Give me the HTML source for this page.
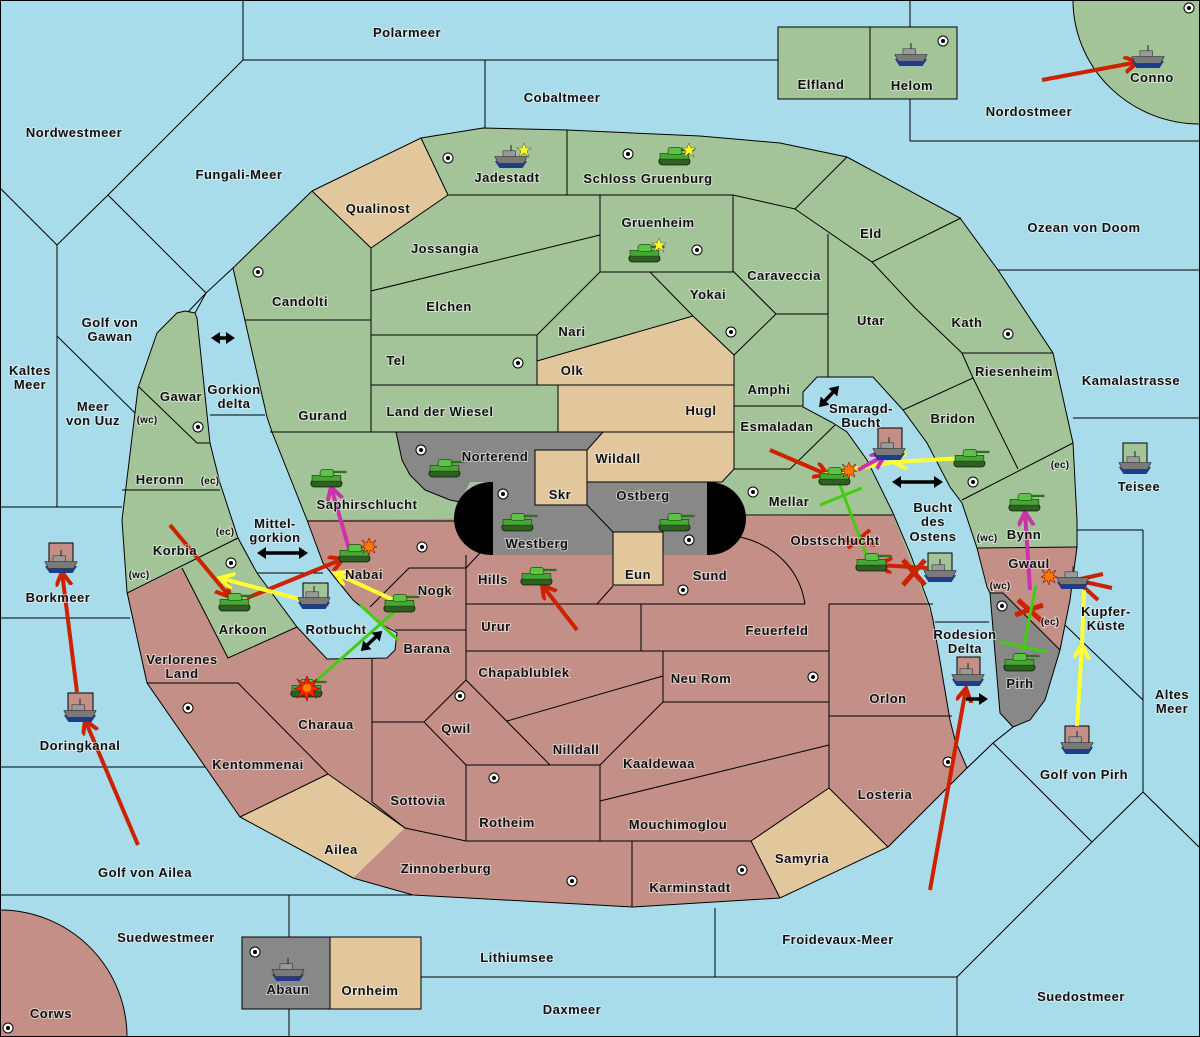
<!DOCTYPE html>
<html><head><meta charset="utf-8"><style>
html,body{margin:0;padding:0;background:#a9dcea;width:1200px;height:1037px;max-height:1037px;overflow:hidden;position:relative;}
svg{display:block;position:absolute;left:0;top:0;overflow:hidden}
text{font-family:"Liberation Sans","DejaVu Sans",sans-serif;font-weight:bold;font-size:13px;fill:#111;text-anchor:middle;letter-spacing:0.5px;paint-order:stroke;stroke:#f4f4f4;stroke-width:2px;stroke-opacity:0.6}
text.s{font-size:10px;letter-spacing:0.2px}
</style></head><body>
<svg width="1200" height="1037" viewBox="0 0 1200 1037" xmlns="http://www.w3.org/2000/svg">
<defs>
<g id="tank0">
 <rect x="-14" y="0" width="27" height="6" rx="3" fill="#2f5f22" stroke="#0d2a08" stroke-width="0.8"/>
 <rect x="-13" y="-4" width="25" height="5" fill="#46a735" stroke="#1b4a12" stroke-width="0.6"/>
 <rect x="-6" y="-9" width="12" height="6" rx="2" fill="#5cc444" stroke="#1b4a12" stroke-width="0.6"/>
 <rect x="5" y="-8" width="12" height="2" fill="#2e7020"/>
</g>
<g id="tank"><use href="#tank0" transform="scale(1.15)"/></g>
<g id="ship0">
 <path d="M-14,1 L14,1 L10,7 L-10,7Z" fill="#1c3c8c"/>
 <path d="M-14,-3 L14,-3 L11,3 L-11,3Z" fill="#7a7a7a" stroke="#333" stroke-width="0.6"/>
 <rect x="-7" y="-8" width="11" height="5" fill="#9a9a9a" stroke="#333" stroke-width="0.5"/>
 <line x1="0" y1="-13" x2="0" y2="-8" stroke="#333" stroke-width="1"/>
</g>
<g id="ship"><use href="#ship0" transform="scale(1.15)"/></g>
<g id="sc"><circle r="5" fill="#fff" stroke="#000" stroke-width="1"/><circle r="2" fill="#000"/></g>
<g id="boom"><polygon points="0,-12 3,-5 10,-9 6,-2 13,1 6,3 9,10 2,6 0,13 -3,6 -10,10 -6,3 -13,1 -6,-2 -10,-9 -3,-5" fill="#ff2200" stroke="#800" stroke-width="0.6"/><circle r="4" fill="#ff8800"/></g>
<g id="sboom"><polygon points="0,-8 2,-3 7,-6 4,-1 8,1 4,2 6,7 1,4 0,9 -2,4 -6,7 -4,2 -8,1 -4,-1 -7,-6 -2,-3" fill="#ff7700" stroke="#600" stroke-width="0.5"/></g>
<g id="star"><polygon points="0,-7 2,-2 7,-2 3,1 5,7 0,3 -5,7 -3,1 -7,-2 -2,-2" fill="#ffff22" stroke="#665" stroke-width="0.6"/></g>
<marker id="mr" markerWidth="20" markerHeight="20" refX="14" refY="8" orient="auto" markerUnits="userSpaceOnUse"><path d="M0,0 L14,8 L0,16" fill="none" stroke="#cc2200" stroke-width="4"/></marker>
<marker id="my" markerWidth="20" markerHeight="20" refX="14" refY="8" orient="auto" markerUnits="userSpaceOnUse"><path d="M0,0 L14,8 L0,16" fill="none" stroke="#ffff33" stroke-width="4"/></marker>
<marker id="mm" markerWidth="20" markerHeight="20" refX="14" refY="8" orient="auto" markerUnits="userSpaceOnUse"><path d="M0,0 L14,8 L0,16" fill="none" stroke="#cc33aa" stroke-width="4"/></marker>
<marker id="mb" markerWidth="12" markerHeight="12" refX="6" refY="6" orient="auto-start-reverse" markerUnits="userSpaceOnUse"><path d="M0,0 L9,6 L0,12Z" fill="#000"/></marker>
</defs>

<rect width="1200" height="1037" fill="#a9dcea"/>

<g stroke="#000" stroke-width="1" fill="none">
<polyline points="243,0 243,60 778,60"/>
<line x1="485" y1="60" x2="485" y2="128"/>
<polyline points="243,60 108,195 57,245"/>
<line x1="0" y1="188" x2="57" y2="245"/>
<line x1="57" y1="245" x2="57" y2="507"/>
<line x1="108" y1="195" x2="206" y2="293"/>
<line x1="206" y1="293" x2="188" y2="312"/>
<line x1="57" y1="336" x2="135" y2="413"/>
<line x1="0" y1="507" x2="122" y2="507"/>
<line x1="0" y1="618" x2="130" y2="618"/>
<line x1="0" y1="767" x2="205" y2="767"/>
<line x1="0" y1="895" x2="455" y2="895"/>
<line x1="289" y1="895" x2="289" y2="937"/>
<line x1="289" y1="1009" x2="289" y2="1037"/>
<line x1="421" y1="977" x2="957" y2="977"/>
<line x1="715" y1="908" x2="715" y2="977"/>
<line x1="957" y1="977" x2="957" y2="1037"/>
<polyline points="957,977 1092,842 1143,792 1200,848"/>
<polyline points="993,743 1092,842"/>
<line x1="1143" y1="530" x2="1143" y2="792"/>
<line x1="1077" y1="530" x2="1143" y2="530"/>
<line x1="1065" y1="625" x2="1143" y2="700"/>
<line x1="1073" y1="418" x2="1200" y2="418"/>
<line x1="998" y1="270" x2="1200" y2="270"/>
<line x1="910" y1="141" x2="1200" y2="141"/>
<line x1="910" y1="0" x2="910" y2="27"/>
<line x1="910" y1="99" x2="910" y2="141"/>
<line x1="1013" y1="727" x2="993" y2="743"/>
<line x1="993" y1="743" x2="967" y2="768"/>
</g>

<ellipse cx="1200" cy="0" rx="127" ry="124" fill="#a3c499" stroke="#000"/>
<circle cx="0" cy="1037" r="127" fill="#c48f86" stroke="#000"/>
<rect x="778" y="27" width="92" height="72" fill="#a3c499" stroke="#000"/>
<rect x="870" y="27" width="87" height="72" fill="#a3c499" stroke="#000"/>
<rect x="242" y="937" width="88" height="72" fill="#888" stroke="#000"/>
<rect x="330" y="937" width="91" height="72" fill="#e2c69c" stroke="#000"/>

<path d="M312,191 L421,138 L483,128 L567,130 L700,136 L780,143 L847,157 L960,218 L998,270 L1053,353 L1073,443 L1077,520 L1077,547 L1070,600 L1060,650 L1045,700 L1030,720 L1013,727 L993,743 L967,768 L888,847 L780,898 L633,907 L413,895 L353,878 L240,817 L147,683 L127,592 L122,520 L138,388 L157,333 L177,313 L185,311 L195,313 L206,293 L233,268 Z" fill="#a3c499"/>
<polygon points="127,593 182,568 228,658 297,627 300,520 893,515 933,620 955,740 967,768 888,847 780,898 633,907 413,895 353,878 240,817 147,683" fill="#c48f86"/>
<polygon points="977,548 1077,547 1070,600 1060,650 1003,593 990,593" fill="#c48f86"/>
<polygon points="990,593 1003,593 1060,650 1045,700 1030,720 1013,727 1000,713" fill="#888"/>
<polygon points="312,191 421,138 448,195 371,248" fill="#e2c69c"/>
<polygon points="537,361 693,316 734,355 734,469 722,482 587,482 587,450 603,432 558,432 558,385 537,385" fill="#e2c69c"/>
<polygon points="240,817 328,774 405,828 353,878" fill="#e2c69c"/>
<polygon points="751,841 829,788 888,847 780,898" fill="#e2c69c"/>
<path d="M396,432 L603,432 L587,450 L535,450 L535,482 L470,482 L460,502 L450,500 L425,490 L410,475 L402,460 Z" fill="#888"/>
<rect x="454" y="482" width="292" height="73" rx="37" fill="#000"/>
<rect x="493" y="482" width="214" height="73" fill="#888"/>
<rect x="535" y="450" width="52" height="55" fill="#e2c69c" stroke="#000"/>
<rect x="613" y="532" width="50" height="53" fill="#e2c69c" stroke="#000"/>
<line x1="587" y1="505" x2="613" y2="532" stroke="#000"/>

<polygon points="197,318 195,313 206,293 233,268 238,290 267,417 272,432 307,520 323,563 353,600 383,625 397,633 395,650 387,658 327,659 297,627 257,573 238,538 220,483 210,443" fill="#a9dcea" stroke="#000"/>
<polygon points="803,392 817,377 873,377 903,410 927,443 950,487 962,503 977,548 987,587 990,593 1000,713 1013,727 993,743 967,768 955,740 950,720 933,620 930,607 910,553 893,513 867,460 847,432 833,423 803,407" fill="#a9dcea" stroke="#000"/>
<line x1="210" y1="415" x2="265" y2="415" stroke="#000"/>
<line x1="257" y1="573" x2="323" y2="573" stroke="#000"/>
<line x1="935" y1="622" x2="989" y2="622" stroke="#000"/>

<path d="M312,191 L421,138 L483,128 L567,130 L700,136 L780,143 L847,157 L960,218 L998,270 L1053,353 L1073,443 L1077,520 L1077,547 L1070,600 L1060,650 L1045,700 L1030,720 L1013,727 M967,768 L888,847 L780,898 L633,907 L413,895 L353,878 L240,817 L147,683 L127,592 L122,520 L138,388 L157,333 L177,313 L185,311 L195,313 M233,268 L312,191" fill="none" stroke="#000"/>

<g stroke="#000" stroke-width="1" fill="none">
<polyline points="421,138 448,195 371,248 312,191"/>
<line x1="567" y1="130" x2="567" y2="195"/>
<polyline points="448,195 733,195 795,209 847,157"/>
<polyline points="600,195 600,272 733,272 733,195"/>
<line x1="371" y1="291" x2="600" y2="235"/>
<line x1="371" y1="248" x2="371" y2="432"/>
<line x1="245" y1="320" x2="371" y2="320"/>
<line x1="371" y1="335" x2="537" y2="335"/>
<line x1="537" y1="335" x2="600" y2="272"/>
<line x1="537" y1="335" x2="537" y2="385"/>
<line x1="537" y1="361" x2="693" y2="316"/>
<polyline points="650,272 693,316 734,355 776,314 733,271"/>
<line x1="776" y1="314" x2="828" y2="314"/>
<line x1="371" y1="385" x2="734" y2="385"/>
<line x1="558" y1="385" x2="558" y2="432"/>
<line x1="270" y1="432" x2="734" y2="432"/>
<line x1="734" y1="355" x2="734" y2="469"/>
<line x1="603" y1="432" x2="587" y2="450"/>
<line x1="587" y1="482" x2="722" y2="482"/>
<polyline points="722,482 734,469 790,469 835,425"/>
<line x1="734" y1="406" x2="803" y2="406"/>
<polyline points="795,209 872,262 961,218"/>
<line x1="828" y1="234" x2="828" y2="377"/>
<polyline points="872,262 915,308 962,353 1053,353"/>
<polyline points="962,353 973,378 1018,469"/>
<line x1="903" y1="410" x2="973" y2="378"/>
<line x1="962" y1="500" x2="1073" y2="443"/>
<line x1="977" y1="548" x2="1077" y2="547"/>
<polyline points="990,593 1003,593 1060,650"/>
<path d="M396,432 L402,460 L410,475 L425,490 L450,500 L460,502"/>
<line x1="307" y1="521" x2="455" y2="521"/>
<line x1="745" y1="515" x2="893" y2="515"/>
<polyline points="127,593 238,538"/>
<polyline points="182,568 228,658 297,627"/>
<line x1="122" y1="490" x2="220" y2="490"/>
<polyline points="139,387 197,443 210,443"/>
<polyline points="147,683 238,683 328,774 405,828 466,841 751,841"/>
<polyline points="240,817 328,774"/>
<line x1="372" y1="659" x2="372" y2="802"/>
<line x1="372" y1="802" x2="405" y2="828"/>
<line x1="372" y1="722" x2="424" y2="722"/>
<polyline points="466,680 424,722 466,765 600,765 663,702"/>
<line x1="466" y1="680" x2="550" y2="765"/>
<line x1="507" y1="721" x2="663" y2="676"/>
<polyline points="370,607 409,568 466,568 480,553"/>
<line x1="395" y1="630" x2="466" y2="630"/>
<line x1="466" y1="555" x2="466" y2="680"/>
<line x1="466" y1="765" x2="466" y2="841"/>
<line x1="600" y1="765" x2="600" y2="841"/>
<polyline points="466,604 597,604 613,586"/>
<line x1="597" y1="604" x2="805" y2="604"/>
<line x1="641" y1="604" x2="641" y2="651"/>
<line x1="466" y1="651" x2="829" y2="651"/>
<line x1="829" y1="604" x2="829" y2="788"/>
<line x1="829" y1="716" x2="952" y2="716"/>
<polyline points="663,651 663,702 829,702"/>
<line x1="600" y1="801" x2="829" y2="745"/>
<polyline points="751,841 829,788 888,847"/>
<line x1="751" y1="841" x2="780" y2="898"/>
<line x1="632" y1="841" x2="632" y2="907"/>
<line x1="829" y1="604" x2="933" y2="604"/>
<path d="M740,537 C775,545 800,570 805,604"/>
</g>

<g>
<use href="#sc" x="448" y="158"/><use href="#sc" x="628" y="154"/><use href="#sc" x="697" y="250"/>
<use href="#sc" x="258" y="272"/><use href="#sc" x="518" y="363"/><use href="#sc" x="731" y="332"/>
<use href="#sc" x="1008" y="334"/><use href="#sc" x="198" y="427"/><use href="#sc" x="231" y="563"/>
<use href="#sc" x="422" y="547"/><use href="#sc" x="421" y="450"/><use href="#sc" x="503" y="494"/>
<use href="#sc" x="689" y="540"/><use href="#sc" x="753" y="492"/><use href="#sc" x="973" y="482"/>
<use href="#sc" x="683" y="590"/><use href="#sc" x="460" y="696"/><use href="#sc" x="813" y="677"/>
<use href="#sc" x="494" y="778"/><use href="#sc" x="188" y="708"/><use href="#sc" x="948" y="762"/>
<use href="#sc" x="572" y="881"/><use href="#sc" x="742" y="870"/><use href="#sc" x="255" y="952"/>
<use href="#sc" x="8" y="1028"/><use href="#sc" x="943" y="41"/><use href="#sc" x="1189" y="8"/>
<use href="#sc" x="1002" y="606"/>
</g>

<g stroke="#000">
<rect x="303" y="583" width="25" height="22" fill="#a3c499"/>
<rect x="878" y="428" width="24" height="27" fill="#c48f86"/>
<rect x="928" y="553" width="24" height="23" fill="#a3c499"/>
<rect x="957" y="657" width="23" height="21" fill="#c48f86"/>
<rect x="1065" y="726" width="24" height="22" fill="#c48f86"/>
<rect x="1123" y="443" width="24" height="23" fill="#a3c499"/>
<rect x="49" y="543" width="24" height="22" fill="#c48f86"/>
<rect x="68" y="693" width="25" height="22" fill="#c48f86"/>
</g>

<g fill="none" stroke-width="4">
<line x1="1042" y1="80" x2="1138" y2="62" stroke="#cc2200" marker-end="url(#mr)"/>
<line x1="77" y1="692" x2="62" y2="572" stroke="#cc2200" marker-end="url(#mr)"/>
<line x1="138" y1="845" x2="85" y2="720" stroke="#cc2200" marker-end="url(#mr)"/>
<line x1="170" y1="525" x2="230" y2="597" stroke="#cc2200" marker-end="url(#mr)"/>
<line x1="247" y1="598" x2="343" y2="559" stroke="#cc2200" marker-end="url(#mr)"/>
<line x1="577" y1="630" x2="542" y2="585" stroke="#cc2200" marker-end="url(#mr)"/>
<line x1="770" y1="450" x2="828" y2="475" stroke="#cc2200" marker-end="url(#mr)"/>
<line x1="928" y1="568" x2="878" y2="565" stroke="#cc2200" marker-end="url(#mr)"/>
<line x1="930" y1="890" x2="966" y2="688" stroke="#cc2200" marker-end="url(#mr)"/>
<line x1="1103" y1="574" x2="1076" y2="580" stroke="#cc2200"/>
<line x1="1112" y1="588" x2="1076" y2="580" stroke="#cc2200"/>
<line x1="1098" y1="600" x2="1076" y2="580" stroke="#cc2200"/>
<path d="M903,560 L925,585 M925,560 L903,585" stroke="#cc2200" stroke-width="5"/>
<path d="M1018,600 L1043,622 M1043,605 L1015,615" stroke="#cc2200" stroke-width="5"/>
<path d="M848,548 L870,530 M845,540 L875,545" stroke="#cc2200" stroke-width="4"/>
<line x1="303" y1="600" x2="220" y2="578" stroke="#ffff33" marker-end="url(#my)"/>
<line x1="400" y1="603" x2="335" y2="573" stroke="#ffff33" marker-end="url(#my)"/>
<line x1="965" y1="458" x2="893" y2="462" stroke="#ffff33" marker-end="url(#my)"/>
<line x1="822" y1="475" x2="893" y2="462" stroke="#ffff33"/>
<line x1="1077" y1="726" x2="1082" y2="645" stroke="#ffff33" marker-end="url(#my)"/>
<line x1="1082" y1="645" x2="1084" y2="590" stroke="#ffff33"/>
<line x1="350" y1="552" x2="331" y2="487" stroke="#cc33aa" marker-end="url(#mm)"/>
<line x1="858" y1="470" x2="885" y2="455" stroke="#cc33aa" marker-end="url(#mm)"/>
<line x1="1030" y1="590" x2="1025" y2="512" stroke="#cc33aa" marker-end="url(#mm)"/>
<line x1="308" y1="688" x2="402" y2="605" stroke="#44cc11" stroke-width="3"/>
<line x1="360" y1="605" x2="398" y2="640" stroke="#44cc11" stroke-width="3"/>
<line x1="840" y1="485" x2="868" y2="560" stroke="#44cc11" stroke-width="3"/>
<line x1="820" y1="505" x2="862" y2="488" stroke="#44cc11" stroke-width="3"/>
<line x1="1020" y1="665" x2="1036" y2="585" stroke="#44cc11" stroke-width="3"/>
<line x1="1000" y1="642" x2="1047" y2="652" stroke="#44cc11" stroke-width="3"/>
</g>
<g stroke="#000" stroke-width="3.5">
<line x1="214" y1="338" x2="232" y2="338" marker-start="url(#mb)" marker-end="url(#mb)"/>
<line x1="260" y1="553" x2="305" y2="553" marker-start="url(#mb)" marker-end="url(#mb)"/>
<line x1="363" y1="649" x2="380" y2="633" marker-start="url(#mb)" marker-end="url(#mb)"/>
<line x1="821" y1="405" x2="837" y2="388" marker-start="url(#mb)" marker-end="url(#mb)"/>
<line x1="895" y1="482" x2="940" y2="482" marker-start="url(#mb)" marker-end="url(#mb)"/>
<line x1="966" y1="699" x2="985" y2="699" marker-end="url(#mb)"/>
</g>

<g>
<use href="#ship" x="511" y="160"/><use href="#star" x="524" y="150"/>
<use href="#tank" x="675" y="158"/><use href="#star" x="689" y="150"/>
<use href="#tank" x="645" y="255"/><use href="#star" x="659" y="245"/>
<use href="#tank" x="327" y="480"/><use href="#tank" x="445" y="470"/>
<use href="#tank" x="518" y="524"/><use href="#tank" x="675" y="524"/>
<use href="#tank" x="537" y="578"/><use href="#tank" x="355" y="555"/><use href="#sboom" x="369" y="546"/>
<use href="#tank" x="235" y="604"/><use href="#tank" x="400" y="605"/>
<use href="#ship" x="314" y="601"/>
<use href="#tank" x="307" y="690"/><use href="#boom" x="307" y="688"/>
<use href="#tank" x="835" y="478"/><use href="#sboom" x="849" y="470"/>
<use href="#ship" x="889" y="452"/><use href="#tank" x="970" y="460"/>
<use href="#tank" x="872" y="564"/><use href="#ship" x="940" y="574"/>
<use href="#tank" x="1025" y="504"/><use href="#ship" x="1073" y="581"/><use href="#sboom" x="1049" y="576"/>
<use href="#tank" x="1020" y="664"/><use href="#ship" x="968" y="678"/>
<use href="#ship" x="1077" y="746"/><use href="#ship" x="1135" y="466"/>
<use href="#ship" x="1148" y="60"/><use href="#ship" x="911" y="58"/>
<use href="#ship" x="61" y="565"/><use href="#ship" x="80" y="714"/><use href="#ship" x="288" y="973"/>
</g>

<g>
<text x="407" y="37">Polarmeer</text><text x="562" y="102">Cobaltmeer</text>
<text x="74" y="137">Nordwestmeer</text><text x="239" y="179">Fungali-Meer</text>
<text x="821" y="89">Elfland</text><text x="912" y="90">Helom</text><text x="1152" y="82">Conno</text>
<text x="1029" y="116">Nordostmeer</text><text x="507" y="182">Jadestadt</text>
<text x="648" y="183">Schloss Gruenburg</text><text x="378" y="213">Qualinost</text>
<text x="658" y="227">Gruenheim</text><text x="871" y="238">Eld</text><text x="1084" y="232">Ozean von Doom</text>
<text x="445" y="253">Jossangia</text><text x="784" y="280">Caraveccia</text><text x="300" y="306">Candolti</text>
<text x="708" y="299">Yokai</text><text x="110" y="327">Golf von</text><text x="110" y="341">Gawan</text>
<text x="449" y="311">Elchen</text><text x="572" y="336">Nari</text><text x="871" y="325">Utar</text>
<text x="967" y="327">Kath</text><text x="30" y="375">Kaltes</text><text x="30" y="389">Meer</text>
<text x="396" y="365">Tel</text><text x="572" y="375">Olk</text><text x="1014" y="376">Riesenheim</text>
<text x="1131" y="385">Kamalastrasse</text><text x="769" y="394">Amphi</text><text x="181" y="401">Gawar</text>
<text x="234" y="394">Gorkion</text><text x="234" y="408">delta</text>
<text x="93" y="411">Meer</text><text x="93" y="425">von Uuz</text><text class="s" x="147" y="423">(wc)</text>
<text x="323" y="420">Gurand</text><text x="440" y="416">Land der Wiesel</text><text x="701" y="415">Hugl</text>
<text x="861" y="413">Smaragd-</text><text x="861" y="427">Bucht</text><text x="953" y="423">Bridon</text>
<text x="777" y="431">Esmaladan</text><text x="160" y="484">Heronn</text><text class="s" x="210" y="484">(ec)</text>
<text x="495" y="461">Norterend</text><text x="618" y="463">Wildall</text><text class="s" x="1060" y="468">(ec)</text>
<text x="1139" y="491">Teisee</text><text x="560" y="499">Skr</text><text x="643" y="500">Ostberg</text>
<text x="789" y="506">Mellar</text><text x="367" y="509">Saphirschlucht</text>
<text x="933" y="512">Bucht</text><text x="933" y="526">des</text><text x="933" y="541">Ostens</text>
<text x="275" y="528">Mittel-</text><text x="275" y="542">gorkion</text><text class="s" x="225" y="535">(ec)</text>
<text x="537" y="548">Westberg</text><text x="835" y="545">Obstschlucht</text><text class="s" x="987" y="541">(wc)</text>
<text x="1024" y="539">Bynn</text><text x="175" y="555">Korbia</text><text x="364" y="579">Nabai</text>
<text class="s" x="139" y="578">(wc)</text><text x="638" y="579">Eun</text><text x="710" y="580">Sund</text>
<text x="1029" y="568">Gwaul</text><text x="493" y="584">Hills</text><text x="435" y="595">Nogk</text>
<text x="58" y="602">Borkmeer</text><text class="s" x="1000" y="589">(wc)</text>
<text x="1106" y="616">Kupfer-</text><text x="1106" y="630">Küste</text>
<text x="243" y="634">Arkoon</text><text x="336" y="634">Rotbucht</text><text x="496" y="631">Urur</text>
<text x="777" y="635">Feuerfeld</text><text class="s" x="1050" y="625">(ec)</text>
<text x="965" y="639">Rodesion</text><text x="965" y="653">Delta</text><text x="427" y="653">Barana</text>
<text x="182" y="664">Verlorenes</text><text x="182" y="678">Land</text><text x="524" y="677">Chapablublek</text>
<text x="701" y="683">Neu Rom</text><text x="1020" y="688">Pirh</text><text x="888" y="703">Orlon</text>
<text x="1172" y="699">Altes</text><text x="1172" y="713">Meer</text><text x="326" y="729">Charaua</text>
<text x="456" y="733">Qwil</text><text x="80" y="750">Doringkanal</text><text x="576" y="754">Nilldall</text>
<text x="659" y="768">Kaaldewaa</text><text x="258" y="769">Kentommenai</text><text x="1084" y="779">Golf von Pirh</text>
<text x="885" y="799">Losteria</text><text x="418" y="805">Sottovia</text><text x="507" y="827">Rotheim</text>
<text x="678" y="829">Mouchimoglou</text><text x="341" y="854">Ailea</text><text x="802" y="863">Samyria</text>
<text x="446" y="873">Zinnoberburg</text><text x="145" y="877">Golf von Ailea</text><text x="690" y="892">Karminstadt</text>
<text x="166" y="942">Suedwestmeer</text><text x="838" y="944">Froidevaux-Meer</text><text x="517" y="962">Lithiumsee</text>
<text x="288" y="994">Abaun</text><text x="370" y="995">Ornheim</text><text x="1081" y="1001">Suedostmeer</text>
<text x="572" y="1014">Daxmeer</text><text x="51" y="1018">Corws</text>
</g>
<rect x="0.5" y="0.5" width="1199" height="1036" fill="none" stroke="#000"/>
</svg>
</body></html>
